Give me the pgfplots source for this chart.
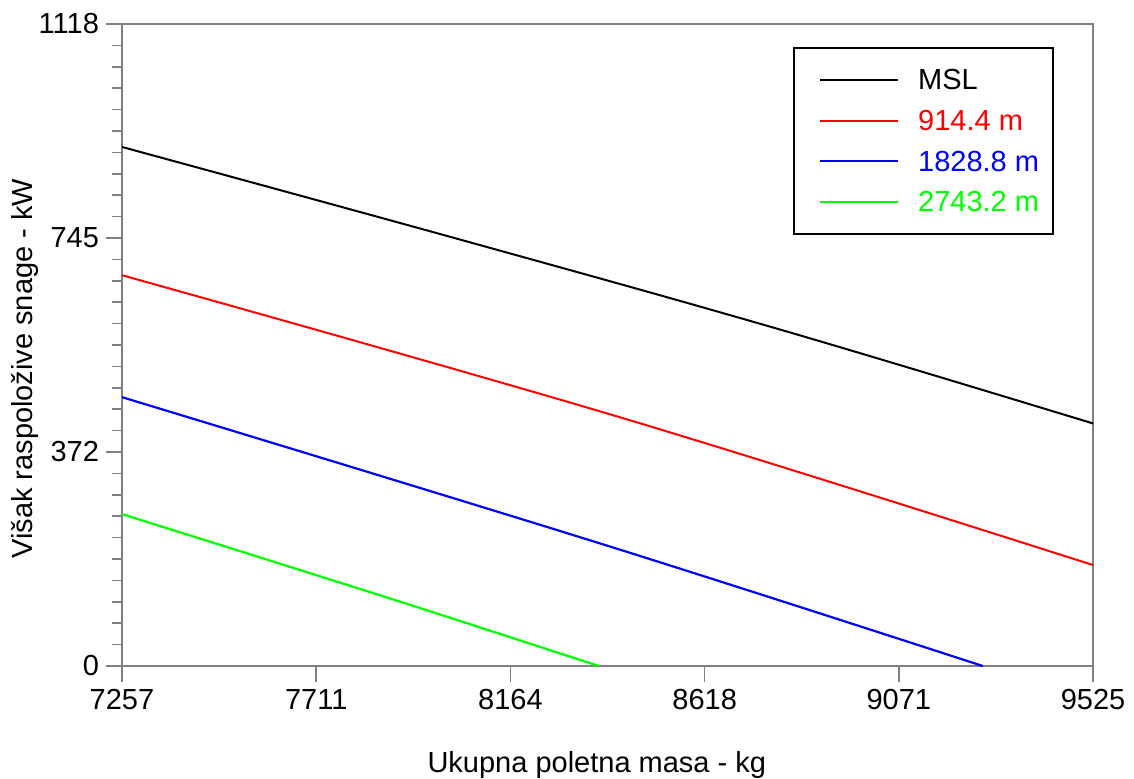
\documentclass[border=0pt]{standalone}
\usepackage{fontspec}
\setmainfont{Liberation Sans}
\usepackage{pgfplots}
\pgfplotsset{compat=1.18}
\newcommand{\chartfont}{\fontsize{14.5}{17.4}\selectfont}
\begin{document}
\begin{tikzpicture}
\begin{axis}[
  at={(0pt,0pt)}, anchor=south west,
  scale only axis, width=485.5pt, height=321pt,
  xmin=7257.5, xmax=9525.4, ymin=0, ymax=1118.55,
  xtick={7257.5,7711.1,8164.7,8618.3,9071.8,9525.4},
  xticklabels={7257,7711,8164,8618,9071,9525},
  ytick={0,372.85,745.7,1118.55},
  yticklabels={0,372,745,1118},
  minor x tick num=4, minor y tick num=9,
  tick pos=left, tick align=outside,
  major tick length=8pt, minor tick length=5pt,
  axis line style={draw=gray, line width=0.75pt},
  tick style={draw=gray, line width=0.75pt},
  /pgf/number format/assume math mode=true,
  ticklabel style={font=\chartfont},
  label style={font=\chartfont},
  xlabel={Ukupna poletna masa - kg},
  ylabel={Višak raspoložive snage - kW},
  xlabel style={at={(axis description cs:0.489,-0.154)}, anchor=center},
  ylabel style={at={(axis description cs:-0.1,0.463)}, anchor=center, rotate=0},
  legend style={at={(rel axis cs:0.6911,0.9642)}, anchor=north west,
    draw=black, line width=1pt, font=\chartfont,
    inner xsep=7pt, inner ysep=11pt, row sep=10.3pt, column sep=9.5pt,
    nodes={inner sep=0pt, text height=10pt, text depth=0pt}},
  legend cell align=left,
  legend image code/.code={\draw[draw=none] (0pt,0pt) -- (6pt,0pt); \draw[#1] (6pt,0pt) -- (45pt,0pt);},
]
\addplot[black, line width=1pt, smooth, tension=0.6] coordinates {(7257.5,904.3) (8046.5,743.1) (8794,586.3) (9525.4,422.6)};
\addlegendentry{\textcolor{black}{MSL}}
\addplot[red, line width=1pt, smooth, tension=0.6] coordinates {(7257.5,680.9) (8420,433.5) (9525.4,175.9)};
\addlegendentry{\textcolor{red}{914.4 m}}
\addplot[blue, line width=1.1pt, smooth, tension=0.6] coordinates {(7257.5,468.4) (8373.5,213.7) (9268,0)};
\addlegendentry{\textcolor{blue}{1828.8 m}}
\addplot[green, line width=1.1pt, smooth, tension=0.6] coordinates {(7257.5,264.7) (7890.7,116) (8371,0)};
\addlegendentry{\textcolor{green}{2743.2 m}}
\end{axis}
\pgfresetboundingbox
\path[use as bounding box] (-61pt,-56pt) rectangle (506pt,333pt);
\end{tikzpicture}
\end{document}
